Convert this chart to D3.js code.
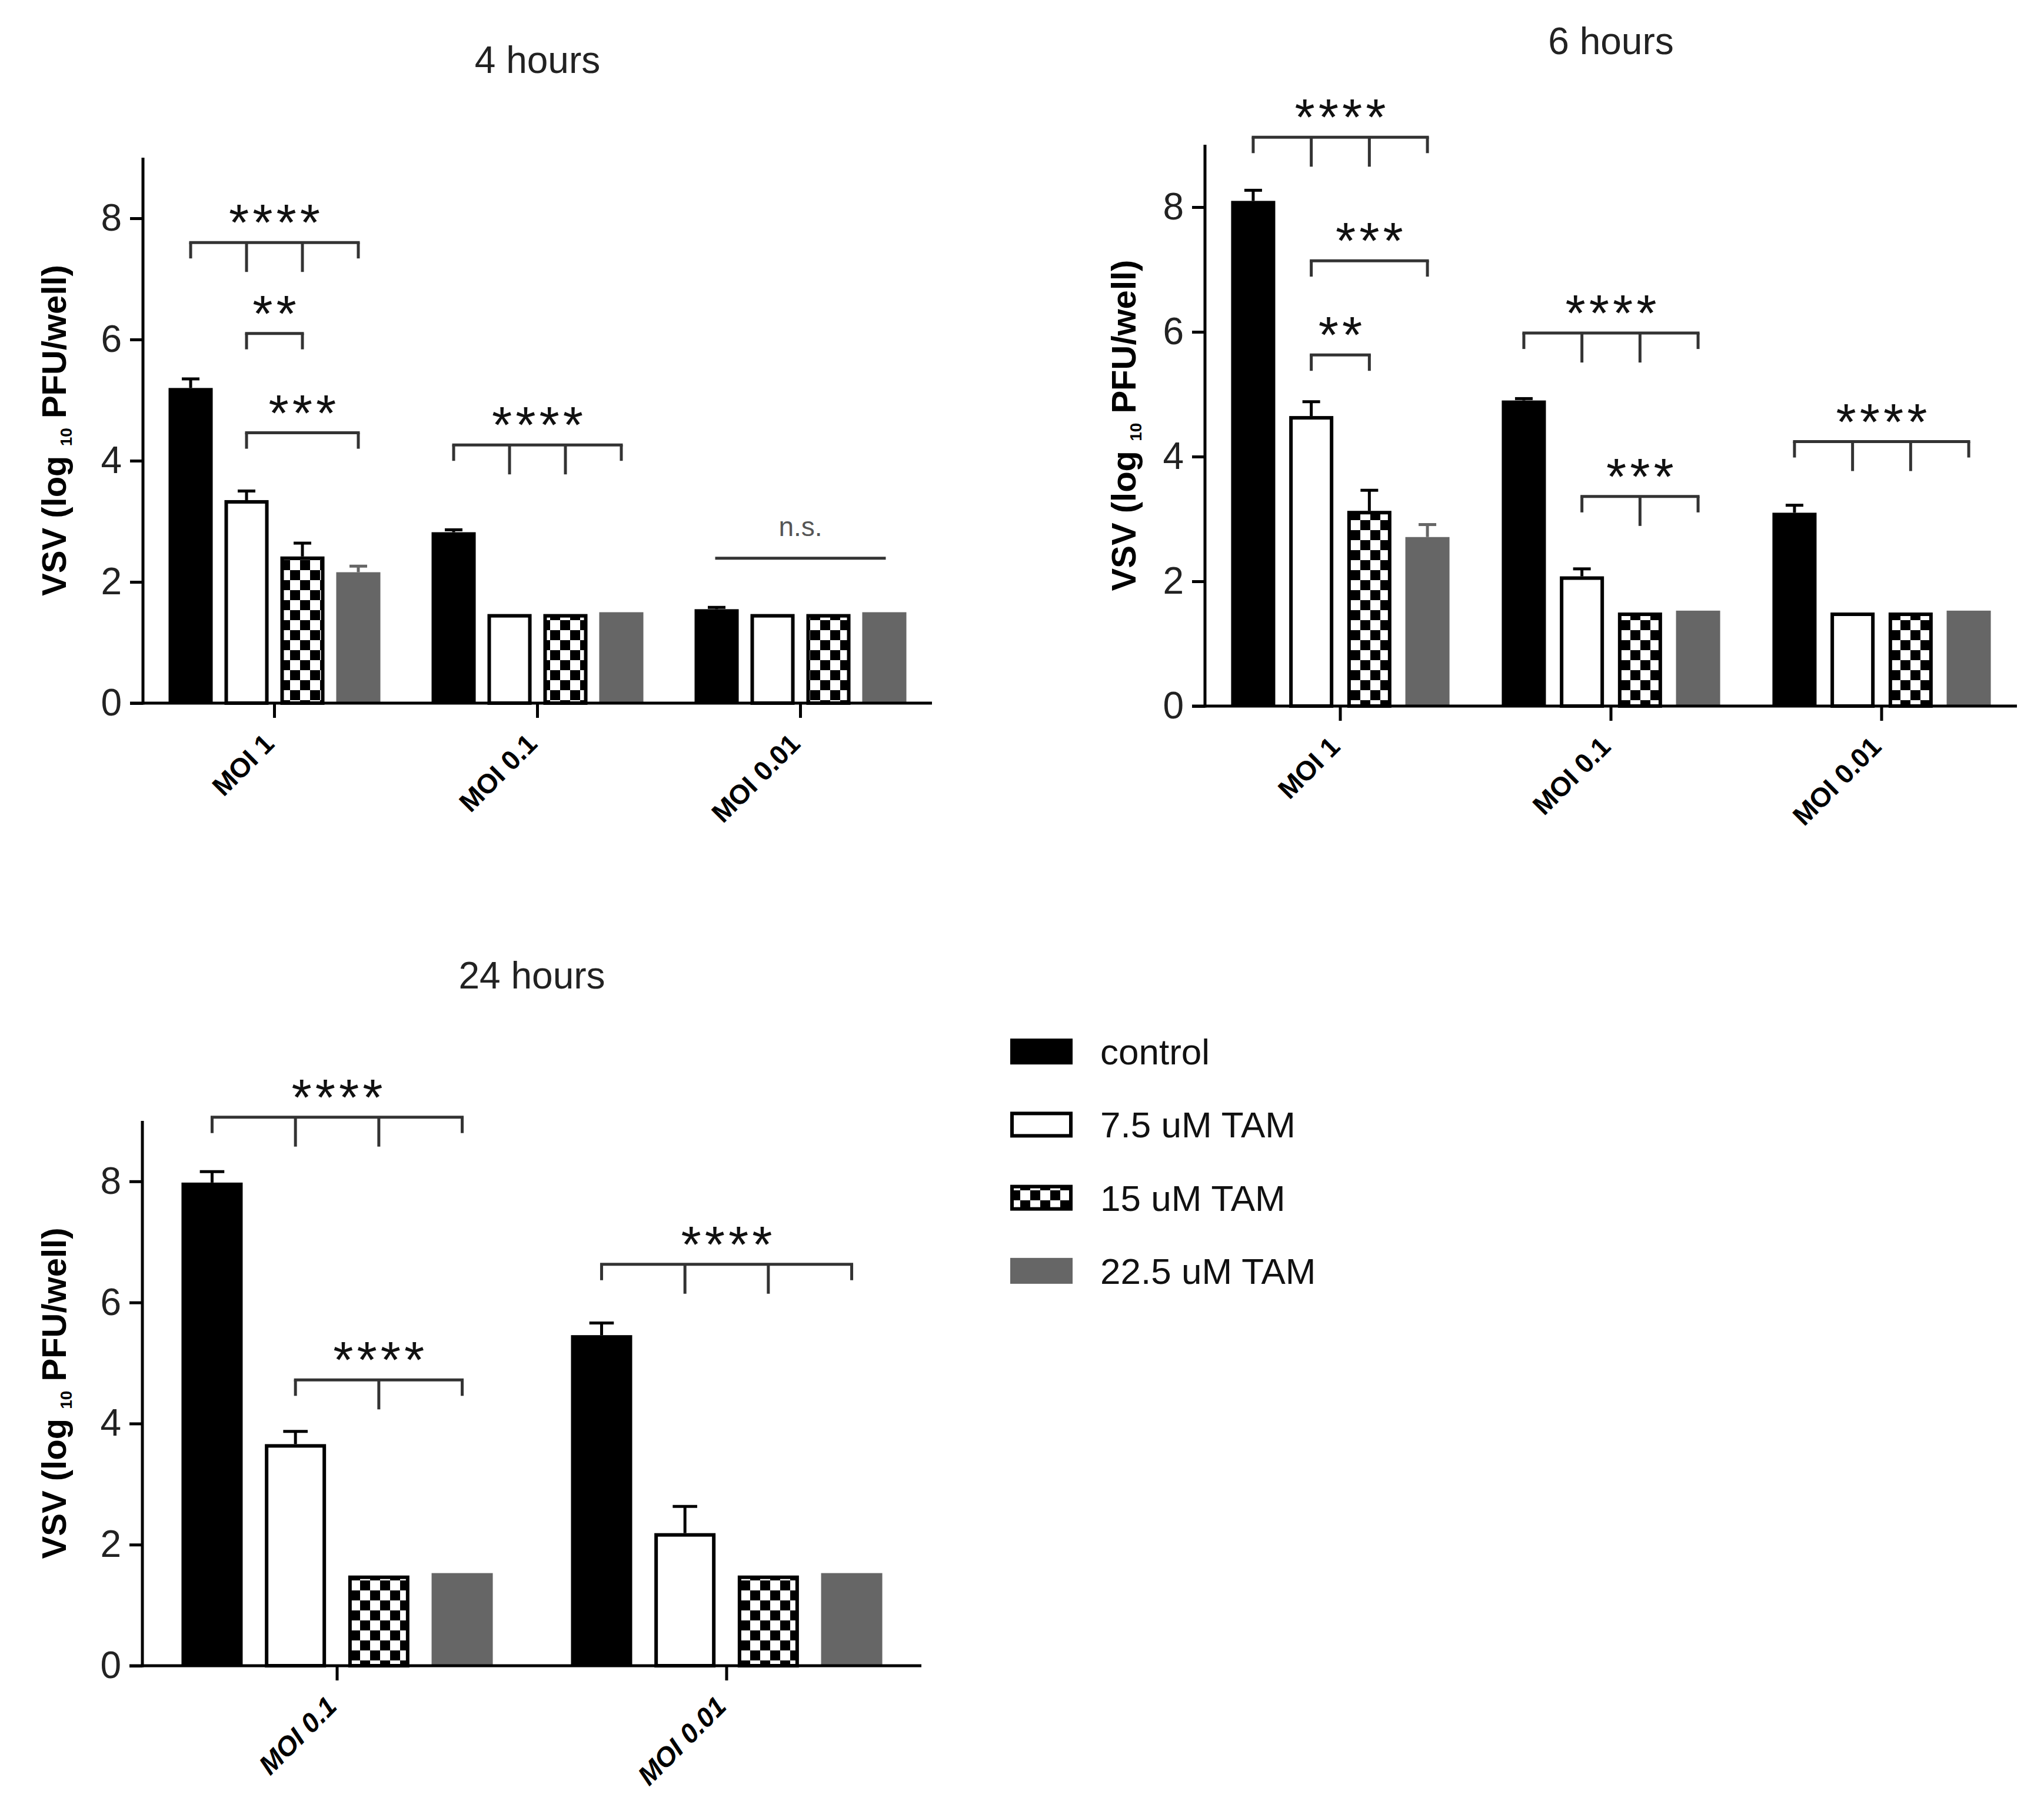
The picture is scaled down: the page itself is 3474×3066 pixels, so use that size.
<!DOCTYPE html>
<html>
<head>
<meta charset="utf-8">
<script src="https://cdn.jsdelivr.net/npm/d3@7"></script>
<style>
  html, body { margin: 0; background: #fff; }
  svg { display: block; }
</style>
</head>
<body>
<div id="chart"></div>
<script>
// ---- data ----
const series = ['control', '7.5 uM TAM', '15 uM TAM', '22.5 uM TAM'];
const yTicks = [0, 2, 4, 6, 8];

const groups4h = ['MOI 1', 'MOI 0.1', 'MOI 0.01'];
const mean4h = [[5.20, 2.82, 1.55], [3.35, 1.47, 1.47], [2.42, 1.47, 1.47], [2.16, 1.50, 1.50]];
const err4h = [[0.15, 0.04, 0.03], [0.15, 0, 0], [0.22, 0, 0], [0.10, 0, 0]];
const sig4h = [
    { group: 0, from: 0, to: 3, mids: [1, 2], y: 7.60, label: '****' },
    { group: 0, from: 1, to: 2, mids: [], y: 6.10, label: '**' },
    { group: 0, from: 1, to: 3, mids: [], y: 4.46, label: '***' },
    { group: 1, from: 0, to: 3, mids: [1, 2], y: 4.26, label: '****' },
    { group: 2, from: 0, to: 3, mids: [], y: 2.39, label: 'n.s.', plain: true }
];

const groups6h = ['MOI 1', 'MOI 0.1', 'MOI 0.01'];
const mean6h = [[8.10, 4.90, 3.10], [4.65, 2.08, 1.50], [3.13, 1.50, 1.50], [2.71, 1.53, 1.53]];
const err6h = [[0.17, 0.03, 0.12], [0.23, 0.12, 0], [0.33, 0, 0], [0.20, 0, 0]];
const sig6h = [
    { group: 0, from: 0, to: 3, mids: [1, 2], y: 9.12, label: '****' },
    { group: 0, from: 1, to: 3, mids: [], y: 7.14, label: '***' },
    { group: 0, from: 1, to: 2, mids: [], y: 5.63, label: '**' },
    { group: 1, from: 0, to: 3, mids: [1, 2], y: 5.98, label: '****' },
    { group: 1, from: 1, to: 3, mids: [2], y: 3.36, label: '***' },
    { group: 2, from: 0, to: 3, mids: [1, 2], y: 4.24, label: '****' }
];

const groups24h = ['MOI 0.1', 'MOI 0.01'];
const mean24h = [[7.98, 5.46], [3.66, 2.19], [1.49, 1.49], [1.53, 1.53]];
const err24h = [[0.18, 0.20], [0.21, 0.44], [0, 0], [0, 0]];
const sig24h = [
    { group: 0, from: 0, to: 3, mids: [1, 2], y: 9.06, label: '****' },
    { group: 0, from: 1, to: 3, mids: [2], y: 4.72, label: '****' },
    { group: 1, from: 0, to: 3, mids: [1, 2], y: 6.63, label: '****' }
];

// ---- drawing ----
const W = 3474, H = 3066;
const FONT = '"Liberation Sans", Arial, Helvetica, sans-serif';

const svg = d3.select('#chart').append('svg')
    .attr('width', W)
    .attr('height', H)
    .attr('viewBox', [0, 0, W, H]);

const pat = svg.append('defs').append('pattern')
    .attr('id', 'checker')
    .attr('patternUnits', 'userSpaceOnUse')
    .attr('width', 34)
    .attr('height', 34);
pat.append('rect').attr('width', 34).attr('height', 34).attr('fill', '#fff');
pat.append('rect').attr('width', 17).attr('height', 17).attr('fill', '#000');
pat.append('rect').attr('x', 17).attr('y', 17).attr('width', 17).attr('height', 17).attr('fill', '#000');

const fills = ['#000', '#fff', 'url(#checker)', '#666'];
const strokes = [null, '#000', '#000', null];
const errColors = ['#000', '#000', '#000', '#666'];

function drawPanel(cfg) {
    const g = svg.append('g');

    const y = d3.scaleLinear().domain([0, 9]).range([cfg.zeroY, cfg.zeroY - 9 * cfg.unit]);
    const x = d3.scaleBand().domain(cfg.groups).range([cfg.x0, cfg.x1]);
    const xs = d3.scaleBand().domain(series).range([0, x.bandwidth()])
        .paddingInner(cfg.padIn).paddingOuter(cfg.padOut);
    const bw = xs.bandwidth();
    const cx = (gi, si) => x(cfg.groups[gi]) + xs(series[si]) + bw / 2;

    // title
    g.append('text')
        .attr('x', (cfg.x0 + cfg.x1) / 2)
        .attr('y', cfg.titleY)
        .attr('text-anchor', 'middle')
        .attr('font-family', FONT)
        .attr('font-size', 64)
        .attr('fill', '#222')
        .text(cfg.title);

    // bars
    series.forEach((s, si) => {
        cfg.means[si].forEach((v, gi) => {
            const sw = strokes[si] ? 6 : 0;
            const left = x(cfg.groups[gi]) + xs(s);
            g.append('rect')
                .attr('x', left + sw / 2)
                .attr('y', y(v) + sw / 2)
                .attr('width', bw - sw)
                .attr('height', y(0) - y(v) - sw / 2)
                .attr('fill', fills[si])
                .attr('stroke', strokes[si])
                .attr('stroke-width', sw);

            const e = cfg.errs[si][gi];
            if (e > 0) {
                const xc = left + bw / 2;
                const capW = bw * 0.4;
                g.append('line')
                    .attr('x1', xc).attr('x2', xc)
                    .attr('y1', y(v)).attr('y2', y(v + e))
                    .attr('stroke', errColors[si]).attr('stroke-width', 5);
                g.append('line')
                    .attr('x1', xc - capW / 2).attr('x2', xc + capW / 2)
                    .attr('y1', y(v + e)).attr('y2', y(v + e))
                    .attr('stroke', errColors[si]).attr('stroke-width', 5);
            }
        });
    });

    // axes
    const yAxis = g.append('g')
        .attr('transform', `translate(${cfg.x0},0)`)
        .call(d3.axisLeft(y).tickValues(yTicks).tickSize(22).tickPadding(14).tickSizeOuter(0));
    yAxis.select('.domain').remove();
    yAxis.selectAll('.tick line').attr('stroke', '#000').attr('stroke-width', 5);
    yAxis.selectAll('.tick text')
        .attr('font-family', FONT).attr('font-size', 64).attr('fill', '#222');
    g.append('line')
        .attr('x1', cfg.x0).attr('x2', cfg.x0)
        .attr('y1', y(9)).attr('y2', y(0) + 2.5)
        .attr('stroke', '#000').attr('stroke-width', 5);

    const xAxis = g.append('g')
        .attr('transform', `translate(0,${cfg.zeroY})`)
        .call(d3.axisBottom(x).tickSize(25).tickSizeOuter(0));
    xAxis.select('.domain').remove();
    xAxis.selectAll('.tick line').attr('stroke', '#000').attr('stroke-width', 5);
    xAxis.selectAll('.tick text')
        .attr('font-family', FONT)
        .attr('font-size', 46)
        .attr('font-weight', 'bold')
        .attr('font-style', cfg.italic ? 'italic' : 'normal')
        .attr('fill', '#000')
        .attr('text-anchor', 'end')
        .attr('dy', null)
        .attr('y', null)
        .attr('transform', 'translate(2,72) rotate(-45)');
    g.append('line')
        .attr('x1', cfg.x0 - 22).attr('x2', cfg.x1)
        .attr('y1', cfg.zeroY).attr('y2', cfg.zeroY)
        .attr('stroke', '#000').attr('stroke-width', 5);

    // y label
    const lab = g.append('text')
        .attr('transform', `translate(${cfg.labelX},${(y(0) + y(9)) / 2}) rotate(-90)`)
        .attr('text-anchor', 'middle')
        .attr('font-family', FONT)
        .attr('font-size', 58)
        .attr('font-weight', 'bold')
        .attr('fill', '#000');
    lab.append('tspan').text('VSV (log ');
    lab.append('tspan').attr('font-size', 28).attr('dy', 10).text('10');
    lab.append('tspan').attr('dy', -10).text(' PFU/well)');

    // significance brackets
    cfg.sig.forEach(s => {
        const xa = cx(s.group, s.from);
        const xb = cx(s.group, s.to);
        const ly = y(s.y);
        const col = '#333';
        g.append('line')
            .attr('x1', xa - 2.5).attr('x2', xb + 2.5)
            .attr('y1', ly).attr('y2', ly)
            .attr('stroke', col).attr('stroke-width', 5);
        if (!s.plain) {
            [s.from, s.to].forEach(i => {
                g.append('line')
                    .attr('x1', cx(s.group, i)).attr('x2', cx(s.group, i))
                    .attr('y1', ly).attr('y2', ly + 27)
                    .attr('stroke', col).attr('stroke-width', 5);
            });
            s.mids.forEach(i => {
                g.append('line')
                    .attr('x1', cx(s.group, i)).attr('x2', cx(s.group, i))
                    .attr('y1', ly).attr('y2', ly + 50)
                    .attr('stroke', col).attr('stroke-width', 5);
            });
            g.append('text')
                .attr('x', (xa + xb) / 2 + 3)
                .attr('y', ly - 4)
                .attr('text-anchor', 'middle')
                .attr('font-family', FONT)
                .attr('font-size', 88)
                .attr('letter-spacing', 6)
                .attr('fill', '#111')
                .text(s.label);
        } else {
            g.append('text')
                .attr('x', (xa + xb) / 2)
                .attr('y', ly - 38)
                .attr('text-anchor', 'middle')
                .attr('font-family', FONT)
                .attr('font-size', 46)
                .attr('fill', '#555')
                .text(s.label);
        }
    });
}

drawPanel({
    title: '4 hours', titleY: 124, groups: groups4h, means: mean4h, errs: err4h, sig: sig4h,
    x0: 243, x1: 1584, zeroY: 1195, unit: 103, padIn: 0.21, padOut: 0.458, labelX: 112
});
drawPanel({
    title: '6 hours', titleY: 92, groups: groups6h, means: mean6h, errs: err6h, sig: sig6h,
    x0: 2048, x1: 3428, zeroY: 1200, unit: 106, padIn: 0.24, padOut: 0.45, labelX: 1930
});
drawPanel({
    title: '24 hours', titleY: 1680, groups: groups24h, means: mean24h, errs: err24h, sig: sig24h,
    x0: 242, x1: 1566, zeroY: 2831, unit: 102.9, padIn: 0.266, padOut: 0.469, labelX: 112, italic: true
});

// legend
const legY = d3.scaleBand().domain(series).range([1725, 2222]);
const leg = svg.append('g');
series.forEach((s, i) => {
    const cy = legY(s) + legY.bandwidth() / 2;
    const sw = strokes[i] ? 6 : 0;
    leg.append('rect')
        .attr('x', 1717 + sw / 2).attr('y', cy - 22 + sw / 2)
        .attr('width', 106 - sw).attr('height', 44 - sw)
        .attr('fill', fills[i])
        .attr('stroke', strokes[i])
        .attr('stroke-width', sw);
    leg.append('text')
        .attr('x', 1870).attr('y', cy + 22)
        .attr('font-family', FONT)
        .attr('font-size', 62)
        .attr('fill', '#111')
        .text(s);
});
</script>
</body>
</html>
